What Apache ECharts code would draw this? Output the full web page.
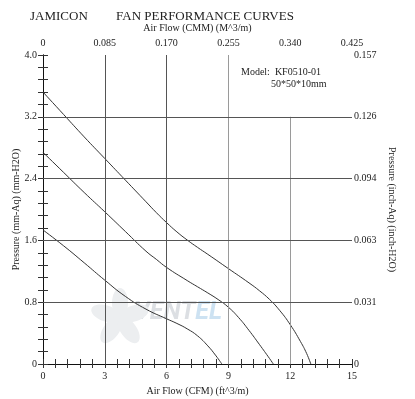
<!DOCTYPE html>
<html>
<head>
<meta charset="utf-8">
<script src="https://cdn.jsdelivr.net/npm/echarts@6/dist/echarts.min.js"></script>
<style>
  html, body { margin: 0; padding: 0; background: #fff; }
  #chart { width: 415px; height: 399px; }
</style>
</head>
<body>
<div id="chart"></div>
<script>
// curves: [CFM, mm-Aq]
const curveH = [[0, 3.52], [1, 3.23], [2, 2.94], [3, 2.66], [4, 2.38], [5, 2.1], [5.5, 1.96], [6, 1.83], [6.5, 1.71], [7, 1.605], [7.5, 1.51], [8, 1.42], [9, 1.235], [10, 1.05], [10.5, 0.95], [11, 0.835], [11.5, 0.69], [12, 0.51], [12.5, 0.29], [12.8, 0.135], [13.0, 0]];
const curveM = [[0, 2.74], [1, 2.48], [2, 2.22], [3, 1.97], [4, 1.715], [5, 1.46], [5.5, 1.355], [6, 1.25], [7, 1.08], [7.5, 1.0], [8, 0.92], [8.5, 0.835], [9, 0.735], [9.5, 0.6], [10, 0.435], [10.5, 0.255], [11, 0.07], [11.18, 0]];
const curveL = [[0, 1.735], [1, 1.53], [2, 1.31], [3, 1.085], [4, 0.875], [5, 0.71], [6, 0.585], [6.5, 0.525], [7, 0.455], [7.5, 0.365], [8, 0.235], [8.4, 0.105], [8.68, 0]];
const curveNames = ['(H)', '(M)', '(L)'];

// tick labels of the secondary axes
const cmmLabels = ['0', '0.085', '0.170', '0.255', '0.340', '0.425'];
const inchLabels = ['0', '0.031', '0.063', '0.094', '0.126', '0.157'];

// grid lines: vertical (CFM) with where each one stops at the top, horizontal (mm-Aq)
const gridX = [3, 6, 9, 12];
const gridTop = [4, 4, 4, 3.2];
const gridY = [0.8, 1.6, 2.4, 3.2];

const modelLines = ['Model:  KF0510-01', '50*50*10mm'];

const FONT = "'Liberation Serif', 'DejaVu Serif', serif";
const INK = '#222';
const X_STEP = 3, X_TICK = 0.6;
const Y_STEP = 0.8, Y_TICK = 0.16;

const chart = echarts.init(document.getElementById('chart'));

const axisText = { fontFamily: FONT, fontSize: 10, color: INK };
const isMajor = (v, step) => Math.abs(v / step - Math.round(v / step)) < 1e-6;

function curveSeries(data, name, labelOffset) {
  return {
    name: name,
    type: 'line',
    symbol: 'none',
    smooth: 0.5,
    lineStyle: { color: '#333', width: 1 },
    silent: true,
    data: data.map((d, i) => i === 0 ? {
      value: d,
      label: {
        show: true, formatter: name, position: 'right', distance: 11,
        offset: labelOffset, fontFamily: FONT, fontSize: 10, color: INK
      }
    } : d)
  };
}

function baseAxis(extra) {
  return Object.assign({
    type: 'value',
    nameLocation: 'middle',
    nameMoveOverlap: false,
    nameTextStyle: axisText,
    axisLine: { show: true, lineStyle: { color: '#111', width: 1 } },
    axisTick: { show: true, inside: true, length: 4, lineStyle: { color: '#333' } },
    splitLine: { show: false }
  }, extra);
}

const xLabel = (fmt) => Object.assign({ margin: 7, showMinLabel: true, showMaxLabel: true, hideOverlap: false,
  formatter: v => isMajor(v, X_STEP) ? fmt(Math.round(v / X_STEP)) : '' }, axisText);
const yLabel = (fmt, margin) => Object.assign({ margin: margin, showMinLabel: true, showMaxLabel: true, hideOverlap: false,
  formatter: v => isMajor(v, Y_STEP) ? fmt(Math.round(v / Y_STEP)) : '' }, axisText);

const fanBlades = [0, 72, 144, 216, 288];

const option = {
  animation: false,
  backgroundColor: '#fff',
  grid: { left: 43, right: 63, top: 55, bottom: 35, outerBoundsMode: 'none', containLabel: false },
  xAxis: [
    baseAxis({
      position: 'bottom', min: 0, max: 15, interval: X_TICK,
      name: 'Air Flow (CFM) (ft^3/m)', nameGap: 22,
      axisTick: { show: true, inside: true, length: 5, lineStyle: { color: '#333' } },
      axisLabel: xLabel(i => String(i * X_STEP))
    }),
    baseAxis({
      position: 'top', min: 0, max: 15, interval: X_TICK,
      name: 'Air Flow (CMM) (M^3/m)', nameGap: 22,
      axisLabel: xLabel(i => cmmLabels[i])
    })
  ],
  yAxis: [
    baseAxis({
      position: 'left', min: 0, max: 4, interval: Y_TICK,
      name: 'Pressure (mm-Aq) (mm-H2O)', nameGap: 22, nameRotate: 90,
      axisTick: { show: true, inside: true, length: 5, lineStyle: { color: '#333' } },
      axisLabel: yLabel(i => i === 0 ? '0' : (i * Y_STEP).toFixed(1), 6)
    }),
    baseAxis({
      position: 'right', min: 0, max: 4, interval: Y_TICK,
      name: 'Pressure (inch-Aq) (inch-H2O)', nameGap: 35, nameRotate: -90,
      axisTick: { show: true, inside: true, length: 5, lineStyle: { color: '#333' } },
      axisLabel: yLabel(i => inchLabels[i], 2)
    })
  ],
  graphic: [
    {
      type: 'text', left: 30, top: 10,
      style: { text: 'JAMICON', font: '13px ' + FONT, fill: INK }
    },
    {
      type: 'text', left: 116, top: 10,
      style: { text: 'FAN PERFORMANCE CURVES', font: '13px ' + FONT, fill: INK }
    },
    {
      type: 'text', left: 241, top: 67,
      style: { text: modelLines[0], font: '10px ' + FONT, fill: INK }
    },
    {
      type: 'text', left: 271, top: 79,
      style: { text: modelLines[1], font: '10px ' + FONT, fill: INK }
    },
    {
      type: 'group', x: 120, y: 318, z: -2,
      children: fanBlades.map(a => ({
        type: 'ellipse',
        rotation: a * Math.PI / 180,
        shape: { cx: 0, cy: -15, rx: 8, ry: 15 },
        style: { fill: '#eceef0' }
      }))
    },
    {
      type: 'text', left: 134, top: 300, z: -1,
      style: {
        text: '{a|VENT}{b|EL}',
        rich: {
          a: { fill: '#dcdfe3', font: 'italic bold 25px Roboto, sans-serif' },
          b: { fill: '#cde2f2', font: 'italic bold 25px Roboto, sans-serif' }
        }
      }
    }
  ],
  series: [
    curveSeries(curveH, curveNames[0], [0, 6]),
    curveSeries(curveM, curveNames[1], [0, 5]),
    curveSeries(curveL, curveNames[2], [0, 0]),
    {
      name: 'grid',
      type: 'line',
      data: [],
      silent: true,
      markLine: {
        silent: true,
        symbol: 'none',
        label: { show: false },
        data: gridX.map((x, i) => [
          { coord: [x, 0], lineStyle: { type: 'solid', width: 1, color: x >= 9 ? '#9a9a9a' : '#555' } },
          { coord: [x, gridTop[i]] }
        ]).concat(gridY.map(y => [
          { coord: [0, y], lineStyle: { type: 'solid', width: 1, color: '#555' } },
          { coord: [15, y] }
        ]))
      }
    }
  ]
};

chart.setOption(option);
</script>
</body>
</html>
